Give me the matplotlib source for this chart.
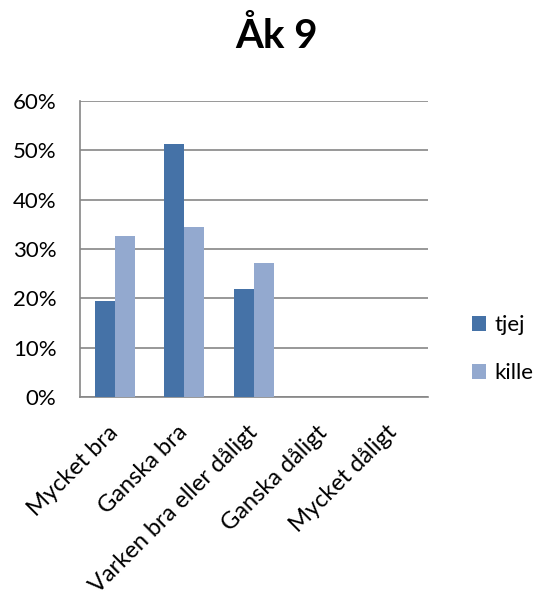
import matplotlib.pyplot as plt
import numpy as np

plt.rcParams['font.family'] = ['Lato', 'DejaVu Sans']

categories = ["Mycket bra", "Ganska bra", "Varken bra eller dåligt",
              "Ganska dåligt", "Mycket dåligt"]
tjej = [19.5, 51.2, 21.8, 0, 0]
kille = [32.6, 34.5, 27.2, 0, 0]
series_names = ["tjej", "kille"]
colors = ["#4572A7", "#93A9CF"]

fig = plt.figure(figsize=(5.36, 5.97), dpi=100)
ax = fig.add_axes([80 / 536, 1 - 397 / 597, 348 / 536, 296 / 597])

x = np.arange(len(categories))
w = 0.2875
b1 = ax.bar(x - w / 2, tjej, w, color=colors[0], label=series_names[0], zorder=3)
b2 = ax.bar(x + w / 2, kille, w, color=colors[1], label=series_names[1], zorder=3)

ax.set_xlim(-0.5, len(categories) - 0.5)
ax.set_ylim(0, 60)
ax.set_yticks(range(0, 61, 10))
ax.set_yticklabels([f"{v}%" for v in range(0, 61, 10)], fontsize=16)
ax.yaxis.grid(True, color="#868686", linewidth=1.2, zorder=0)
ax.set_xticks(x)
ax.set_xticklabels(categories, rotation=45, ha="right", va="center",
                   rotation_mode="anchor", fontsize=17)
ax.tick_params(axis="y", length=0, pad=17)
ax.tick_params(axis="x", length=0, pad=23)
for s in ["top", "right"]:
    ax.spines[s].set_visible(False)
for s in ["left", "bottom"]:
    ax.spines[s].set_color("#868686")
    ax.spines[s].set_linewidth(1.2)

fig.text(277 / 536, 1 - 36 / 597, "Åk 9", fontsize=29, fontweight="bold",
         ha="center", va="center")

fig.legend(handles=[b1, b2], loc="center left",
           bbox_to_anchor=(452 / 536, 1 - 349 / 597), frameon=False,
           fontsize=16, handlelength=0.65, handleheight=0.65, handletextpad=0.35,
           labelspacing=1.25)

fig.savefig("out.png", dpi=100)
